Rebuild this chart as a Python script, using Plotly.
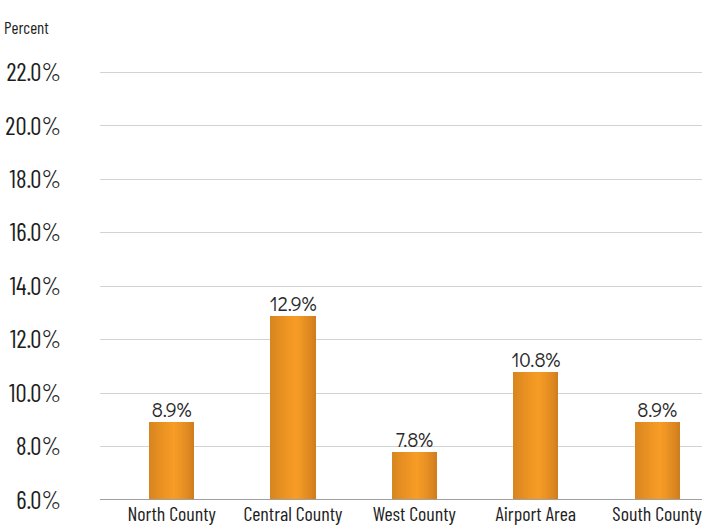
import plotly.graph_objects as go

# Rate by area
areas = ["North County", "Central County", "West County", "Airport Area", "South County"]
rates = [8.9, 12.9, 7.8, 10.8, 8.9]
rate_labels = ["8.9%", "12.9%", "7.8%", "10.8%", "8.9%"]

y_ticks = [6, 8, 10, 12, 14, 16, 18, 20, 22]
y_tick_text = ["6.0%", "8.0%", "10.0%", "12.0%", "14.0%", "16.0%", "18.0%", "20.0%", "22.0%"]

AXIS_FONT = "Barlow Condensed, Barlow Semi Condensed, DejaVu Sans Condensed"
LABEL_FONT = "Didact Gothic, DejaVu Sans"

BAR_WIDTH = 0.372
N_SLICES = 24
LEFT_EDGE = (214, 132, 31)
RIGHT_EDGE = (205, 124, 29)
MID = (247, 156, 37)
PEAK = 0.57  # position of the brightest strip across the bar


def strip_color(pos):
    # pos in [0,1] across the bar, left to right
    if pos <= PEAK:
        edge, t = LEFT_EDGE, pos / PEAK
    else:
        edge, t = RIGHT_EDGE, (1 - pos) / (1 - PEAK)
    t = t ** 0.8
    c = [round(e + (m - e) * t) for e, m in zip(edge, MID)]
    return f"rgb({c[0]},{c[1]},{c[2]})"


fig = go.Figure()

# Each bar is built from thin vertical strips to give a horizontal shading
slice_w = BAR_WIDTH / N_SLICES
for k in range(N_SLICES):
    pos = (k + 0.5) / N_SLICES
    fig.add_trace(go.Bar(
        x=areas,
        y=rates,
        width=slice_w * 1.08,
        offset=-BAR_WIDTH / 2 + k * slice_w,
        marker=dict(color=strip_color(pos), line=dict(width=0)),
        hoverinfo="skip",
        showlegend=False,
    ))

# Value labels above the bars
fig.add_trace(go.Scatter(
    x=areas,
    y=rates,
    mode="text",
    text=rate_labels,
    textposition="top center",
    textfont=dict(family=LABEL_FONT, size=20, color="#2a2a2a"),
    cliponaxis=False,
    showlegend=False,
    hoverinfo="skip",
))

fig.update_layout(
    width=702,
    height=529,
    margin=dict(l=100, r=0, t=67, b=29),
    paper_bgcolor="white",
    plot_bgcolor="white",
    barmode="overlay",
    bargap=0,
    xaxis=dict(
        type="category",
        range=[-0.59, 4.37],
        automargin=False,
        showgrid=False,
        showline=False,
        zeroline=False,
        ticks="",
        tickfont=dict(family=AXIS_FONT, size=20, color="#1e1e1e"),
        ticklabelstandoff=0,
    ),
    yaxis=dict(
        range=[6, 22.2],
        automargin=False,
        tickvals=y_ticks,
        ticktext=y_tick_text,
        showgrid=True,
        gridcolor="#d3d3d3",
        gridwidth=1,
        zeroline=False,
        showline=False,
        ticks="",
        tickfont=dict(family=AXIS_FONT, size=25, color="#1e1e1e"),
        ticklabelstandoff=38,
    ),
    shapes=[dict(
        type="line", xref="paper", yref="y",
        x0=0, x1=1, y0=6, y1=6,
        line=dict(color="#a0a0a0", width=2),
    )],
    annotations=[dict(
        text="Percent",
        xref="paper", yref="paper",
        x=-0.163, y=1.0, xanchor="left", yanchor="bottom",
        yshift=28,
        showarrow=False,
        font=dict(family=AXIS_FONT, size=17, color="#1e1e1e"),
    )],
)

fig.write_html("out.html")
